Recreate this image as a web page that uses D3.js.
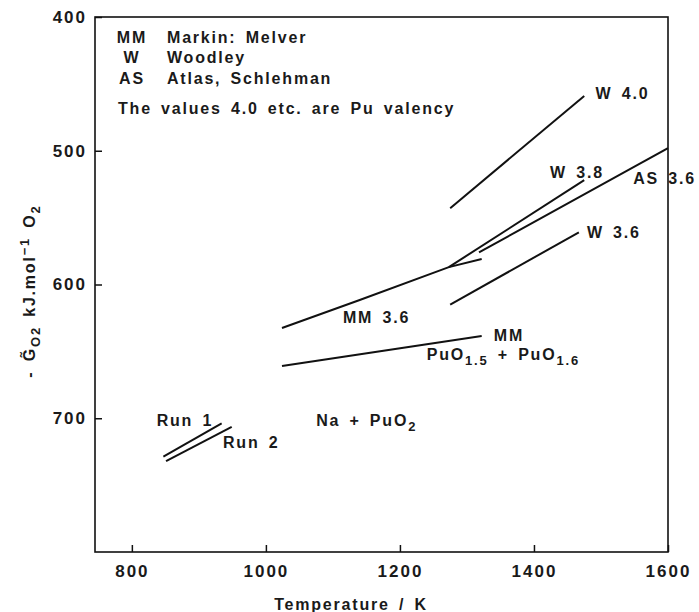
<!DOCTYPE html>
<html>
<head>
<meta charset="utf-8">
<script src="https://cdn.jsdelivr.net/npm/d3@7"></script>
<style>
body { margin: 0; background: #fff; }
text { font-family: "Liberation Sans", Arial, sans-serif; font-weight: bold; fill: #1a1a1a; letter-spacing: 1.8px; word-spacing: 3px; }
</style>
</head>
<body>
<script>
// axis ticks
let xTicks = [800, 1000, 1200, 1400, 1600];
let yTicks = [400, 500, 600, 700];

// each curve: temperatures (K) and -G (kJ/mol O2)
let seriesNames = ["W 4.0", "W 3.8", "AS 3.6", "W 3.6", "MM 3.6", "MM", "Run 1", "Run 2"];
let seriesTemps = [
    [1275, 1475],
    [1273, 1475],
    [1318, 1600],
    [1275, 1467],
    [1024, 1140, 1273, 1322],
    [1024, 1322],
    [847, 934],
    [851, 949]];
let seriesG = [
    [543, 459],
    [587, 522],
    [576, 498],
    [615, 561],
    [632.5, 611.6, 587, 581],
    [661, 638.5],
    [728.7, 703.8],
    [732, 706.5]];

// curve labels, anchored in data units
let noteText = ["W 4.0", "W 3.8", "AS 3.6", "W 3.6", "MM 3.6", "MM", "Run 1", "Run 2"];
let noteT = [1492, 1424, 1548, 1479, 1115, 1340, 837, 936];
let noteG = [461, 520, 525, 565, 629, 642, 706, 722];

let legendCodes = ["MM", "W", "AS"];
let legendNames = ["Markin: Melver", "Woodley", "Atlas, Schlehman"];

let width = 699,
    height = 612;

let margin = {
    left: 95,
    right: 31,
    top: 17,
    bottom: 60
};
let plotW = width - margin.left - margin.right,
    plotH = height - margin.top - margin.bottom;

let x = d3.scaleLinear()
    .domain([745, 1600])
    .range([0, plotW]);

let y = d3.scaleLinear()
    .domain([400, 800])
    .range([0, plotH]);

let svg = d3.select("body")
    .append("svg")
    .attr("width", width)
    .attr("height", height);

let chartGroup = svg.append("g")
    .attr("transform", `translate(${margin.left},${margin.top})`);

// axes, ticks pointing inward
let yAxis = d3.axisLeft(y).tickValues(yTicks).tickSize(-7).tickPadding(8);
let xAxis = d3.axisBottom(x).tickValues(xTicks).tickFormat(d3.format("d"))
    .tickSize(-7).tickPadding(13);

let gy = chartGroup.append("g").attr("class", "axis y").call(yAxis);
let gx = chartGroup.append("g")
    .attr("class", "axis x")
    .attr("transform", `translate(0,${plotH})`)
    .call(xAxis);

[gy, gx].forEach(g => {
    g.select(".domain").remove();
    g.selectAll("line").attr("stroke", "#111").attr("stroke-width", 1.5);
    g.selectAll("text")
        .attr("font-family", null)
        .style("font-size", "17px")
        .style("letter-spacing", "2px")
        .attr("fill", "#1a1a1a");
});

// frame
chartGroup.append("rect")
    .attr("width", plotW)
    .attr("height", plotH)
    .attr("fill", "none")
    .attr("stroke", "#111")
    .attr("stroke-width", 1.6);

// curves
let lineGen = d3.line()
    .x(d => x(d[0]))
    .y(d => y(d[1]));

chartGroup.selectAll("path.curve")
    .data(seriesNames.map((n, i) => seriesTemps[i].map((t, j) => [t, seriesG[i][j]])))
    .enter().append("path")
    .attr("class", "curve")
    .attr("d", lineGen)
    .attr("fill", "none")
    .attr("stroke", "#111")
    .attr("stroke-width", 2);

// curve labels
chartGroup.selectAll("text.note")
    .data(noteText)
    .enter().append("text")
    .attr("class", "note")
    .attr("x", (d, i) => x(noteT[i]))
    .attr("y", (d, i) => y(noteG[i]))
    .style("font-size", "16px")
    .text(d => d);

// text with subscripts
function subText(sel, parts) {
    parts.forEach(p => {
        let t = sel.append("tspan").text(p[0]);
        if (p[1] === "sub") t.attr("dy", 5).style("font-size", "13px");
        else if (p[1] === "back") t.attr("dy", -5);
    });
}

let pu = chartGroup.append("text")
    .attr("x", x(1240))
    .attr("y", y(656.4))
    .style("font-size", "16px");
subText(pu, [["PuO"], ["1.5", "sub"], ["  + PuO", "back"], ["1.6", "sub"]]);

let na = chartGroup.append("text")
    .attr("x", x(1075))
    .attr("y", y(705.8))
    .style("font-size", "16px");
subText(na, [["Na + PuO"], ["2", "sub"]]);

// legend block
let legend = chartGroup.append("g").style("font-size", "16px");
legendCodes.forEach((c, i) => {
    let by = [26, 46, 67][i];
    legend.append("text").attr("x", 37).attr("y", by)
        .attr("text-anchor", "middle").text(c);
    legend.append("text").attr("x", 72).attr("y", by).text(legendNames[i]);
});
legend.append("text").attr("x", 23).attr("y", 97)
    .text("The values 4.0 etc. are Pu valency");

// axis titles
svg.append("text")
    .attr("x", margin.left + x(1127))
    .attr("y", 610)
    .attr("text-anchor", "middle")
    .style("font-size", "16px")
    .text("Temperature / K");

let yt = svg.append("text")
    .attr("transform", "translate(35,291) rotate(-90)")
    .attr("text-anchor", "middle")
    .style("font-size", "16px");
yt.append("tspan").text("- G\u0303");
yt.append("tspan").attr("dy", 5).style("font-size", "13px").text("O2");
yt.append("tspan").attr("dy", -5).text("   kJ.mol");
yt.append("tspan").attr("dy", -6).style("font-size", "13px").text("\u22121");
yt.append("tspan").attr("dy", 6).text(" O");
yt.append("tspan").attr("dy", 5).style("font-size", "13px").text("2");
</script>
</body>
</html>
